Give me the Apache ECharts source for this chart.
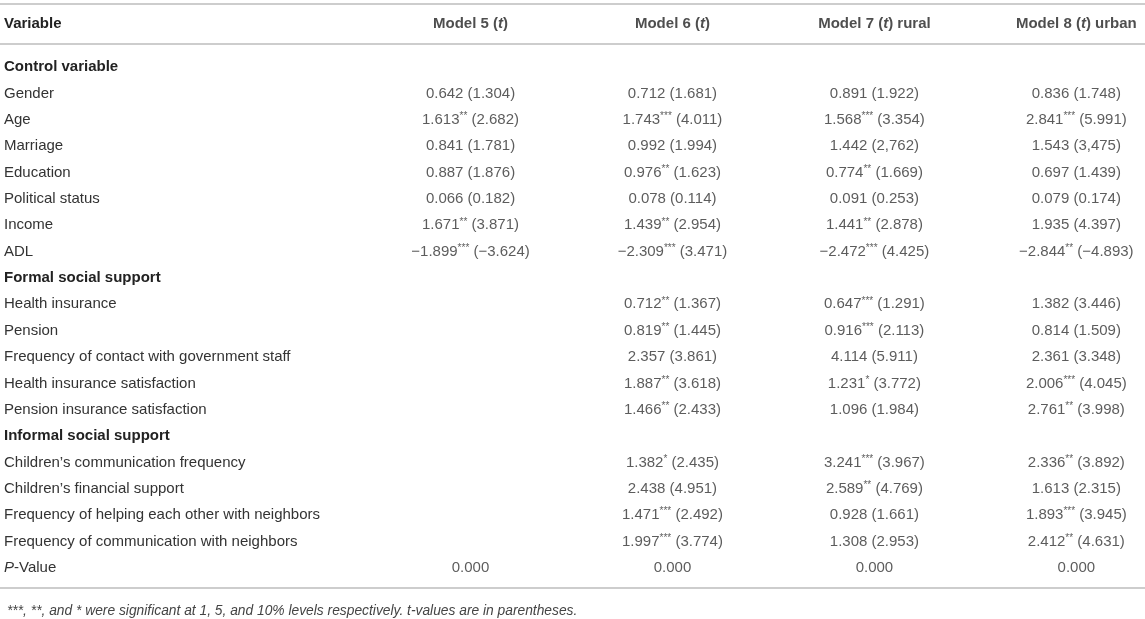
<!DOCTYPE html>
<html>
<head>
<meta charset="utf-8">
<script src="https://cdn.jsdelivr.net/npm/echarts@6/dist/echarts.min.js"></script>
<style>
  html, body { margin: 0; padding: 0; background: #fff; }
  #main { width: 1145px; height: 619px; }
</style>
</head>
<body>
<div id="main"></div>
<script>
// table rows, top to bottom
const rowNames = [
  'Control variable', 'Gender', 'Age', 'Marriage', 'Education', 'Political status', 'Income', 'ADL',
  'Formal social support', 'Health insurance', 'Pension', 'Frequency of contact with government staff',
  'Health insurance satisfaction', 'Pension insurance satisfaction',
  'Informal social support', 'Children’s communication frequency', 'Children’s financial support',
  'Frequency of helping each other with neighbors', 'Frequency of communication with neighbors', 'P-Value'
]
const sectionRows = ['Control variable', 'Formal social support', 'Informal social support']

const firstHeader = 'Variable'
const modelHeaders = ['Model 5 ({it|t})', 'Model 6 ({it|t})', 'Model 7 ({it|t}) rural', 'Model 8 ({it|t}) urban']

// coefficients (with significance stars) and t-values per model
const coef5 = [null, '0.642', '1.613**', '0.841', '0.887', '0.066', '1.671**', '−1.899***', null,
  null, null, null, null, null, null, null, null, null, null, '0.000']
const t5 = [null, '1.304', '2.682', '1.781', '1.876', '0.182', '3.871', '−3.624', null,
  null, null, null, null, null, null, null, null, null, null, null]

const coef6 = [null, '0.712', '1.743***', '0.992', '0.976**', '0.078', '1.439**', '−2.309***', null,
  '0.712**', '0.819**', '2.357', '1.887**', '1.466**', null, '1.382*', '2.438', '1.471***', '1.997***', '0.000']
const t6 = [null, '1.681', '4.011', '1.994', '1.623', '0.114', '2.954', '3.471', null,
  '1.367', '1.445', '3.861', '3.618', '2.433', null, '2.435', '4.951', '2.492', '3.774', null]

const coef7 = [null, '0.891', '1.568***', '1.442', '0.774**', '0.091', '1.441**', '−2.472***', null,
  '0.647***', '0.916***', '4.114', '1.231*', '1.096', null, '3.241***', '2.589**', '0.928', '1.308', '0.000']
const t7 = [null, '1.922', '3.354', '2,762', '1.669', '0.253', '2.878', '4.425', null,
  '1.291', '2.113', '5.911', '3.772', '1.984', null, '3.967', '4.769', '1.661', '2.953', null]

const coef8 = [null, '0.836', '2.841***', '1.543', '0.697', '0.079', '1.935', '−2.844**', null,
  '1.382', '0.814', '2.361', '2.006***', '2.761**', null, '2.336**', '1.613', '1.893***', '2.412**', '0.000']
const t8 = [null, '1.748', '5.991', '3,475', '1.439', '0.174', '4.397', '−4.893', null,
  '3.446', '1.509', '3.348', '4.045', '3.998', null, '3.892', '2.315', '3.945', '4.631', null]

const models = [[coef5, t5], [coef6, t6], [coef7, t7], [coef8, t8]]

const footnote = '***, **, and * were significant at 1, 5, and 10% levels respectively. t-values are in parentheses.'

const FONT = '"Liberation Sans", Arial, Helvetica, sans-serif'
const RULE = { show: true, lineStyle: { color: '#bdbdbd', width: 1.5 } }
const NO_RULE = { show: false }
const X_MIN = -1.33
const X_MAX = 4.34

const chart = echarts.init(document.getElementById('main'))

const cellLabel = (p) => {
  const [, , c, t] = p.data
  const m = c.match(/^([^*]+)(\**)$/)
  const stars = m[2] ? `{s|${m[2]}}` : ''
  return t == null ? m[1] + stars : `${m[1]}${stars} (${t})`
}

const hiddenX = (gridIndex, position, axisLine, offset = 0) => ({
  type: 'value',
  gridIndex,
  min: X_MIN,
  max: X_MAX,
  position,
  offset,
  axisLine,
  axisTick: { show: false },
  axisLabel: { show: false },
  splitLine: { show: false },
})

const cellSeries = models.map(([coef, t], k) => ({
  type: 'scatter',
  xAxisIndex: 2,
  yAxisIndex: 1,
  symbolSize: 1,
  itemStyle: { color: 'rgba(0,0,0,0)' },
  silent: true,
  data: coef
    .map((c, i) => (c == null ? null : [k + 1, i, c, t[i]]))
    .filter((d) => d),
  label: {
    show: true,
    position: 'inside',
    color: '#333',
    fontSize: 15,
    fontFamily: FONT,
    formatter: cellLabel,
    rich: {
      s: { fontSize: 10, color: '#333', verticalAlign: 'top', padding: [0, 0, 7, 0] },
    },
  },
}))

const headerSeries = {
  type: 'scatter',
  xAxisIndex: 0,
  yAxisIndex: 0,
  symbolSize: 1,
  itemStyle: { color: 'rgba(0,0,0,0)' },
  silent: true,
  data: modelHeaders.map((h, k) => [k + 1, 0, h]),
  label: {
    show: true,
    position: 'inside',
    color: '#222',
    fontSize: 15,
    fontWeight: 'bold',
    fontFamily: FONT,
    formatter: (p) => p.data[2],
    rich: {
      it: { fontSize: 15, fontWeight: 'bold', fontStyle: 'italic', color: '#222' },
    },
  },
}

chart.setOption({
  animation: false,
  textStyle: { fontFamily: FONT },
  title: {
    text: footnote,
    left: 2,
    top: 599,
    textStyle: { fontSize: 13.8, fontStyle: 'italic', fontWeight: 'normal', color: '#444', fontFamily: FONT },
  },
  grid: [
    { left: 0, right: 0, top: 4, height: 40, outerBoundsMode: 'none' },
    { left: 0, right: 0, top: 54, bottom: 38, outerBoundsMode: 'none' },
  ],
  xAxis: [
    hiddenX(0, 'top', RULE),
    hiddenX(0, 'bottom', RULE),
    hiddenX(1, 'bottom', RULE, 7),
  ],
  yAxis: [
    {
      type: 'category',
      gridIndex: 0,
      data: [firstHeader],
      axisLine: NO_RULE,
      axisTick: { show: false },
      splitLine: { show: false },
      axisLabel: { inside: true, margin: 4, fontSize: 15, fontWeight: 'bold', color: '#222' },
    },
    {
      type: 'category',
      gridIndex: 1,
      inverse: true,
      data: rowNames,
      axisLine: NO_RULE,
      axisTick: { show: false },
      splitLine: { show: false },
      axisLabel: {
        inside: true,
        margin: 4,
        fontSize: 15,
        color: '#333',
        formatter: (v) => {
          if (sectionRows.includes(v)) return `{b|${v}}`
          if (v === 'P-Value') return '{i|P}-Value'
          return v
        },
        rich: {
          b: { fontSize: 15, fontWeight: 'bold', color: '#222' },
          i: { fontSize: 15, fontStyle: 'italic', color: '#333' },
        },
      },
    },
  ],
  series: [headerSeries, ...cellSeries],
})
</script>
</body>
</html>
